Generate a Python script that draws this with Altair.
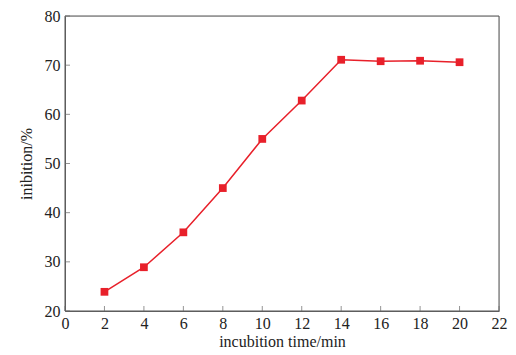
import altair as alt
import pandas as pd

time_min = [2, 4, 6, 8, 10, 12, 14, 16, 18, 20]
inhibition = [23.9, 28.9, 36.0, 45.0, 55.0, 62.8, 71.1, 70.8, 70.9, 70.6]
x_ticks = [0, 2, 4, 6, 8, 10, 12, 14, 16, 18, 20, 22]
y_ticks = [20, 30, 40, 50, 60, 70, 80]

df = pd.DataFrame({"t": time_min, "v": inhibition})
xt = pd.DataFrame({"t": x_ticks})
yt = pd.DataFrame({"v": y_ticks})

RED = "#e8202a"
FONT = "'Liberation Serif', 'Times New Roman', serif"

xs = alt.Scale(domain=[0, 22], nice=False, zero=False)
ys = alt.Scale(domain=[20, 80], nice=False, zero=False)

common = dict(ticks=False, grid=False, domainColor="#666", labelFontSize=16, titleFontSize=16,
              labelFont=FONT, titleFont=FONT, labelColor="#222", titleColor="#222",
              titleFontWeight="normal", labelOverlap=False, labelFlush=False)

xaxis = alt.Axis(values=x_ticks, labelPadding=4, titlePadding=2, **common)
yaxis = alt.Axis(values=y_ticks, labelPadding=5, titlePadding=10, **common)
XT = "incubition time/min"
YT = "inibition/%"

frame = alt.Chart(pd.DataFrame({"a": [0]})).mark_rect(fill=None, stroke="#555", strokeWidth=1).encode(
    x=alt.datum(0, scale=xs, axis=xaxis, title=XT), x2=alt.datum(22),
    y=alt.datum(20, scale=ys, axis=yaxis, title=YT), y2=alt.datum(80))

line = alt.Chart(df).mark_line(color=RED, strokeWidth=1.5).encode(
    x=alt.X("t:Q", scale=xs, axis=xaxis, title=XT),
    y=alt.Y("v:Q", scale=ys, axis=yaxis, title=YT))
pts = alt.Chart(df).mark_square(color=RED, size=60, opacity=1, filled=True).encode(
    x=alt.X("t:Q", scale=xs, axis=xaxis, title=XT),
    y=alt.Y("v:Q", scale=ys, axis=yaxis, title=YT))

xtick = alt.Chart(xt).mark_tick(orient="vertical", size=5, color="#666", thickness=1).encode(
    x=alt.X("t:Q", scale=xs, axis=xaxis, title=XT),
    y=alt.datum(20, scale=ys, axis=yaxis, title=YT), yOffset=alt.value(-2.5))
ytick = alt.Chart(yt).mark_tick(orient="horizontal", size=5, color="#666", thickness=1).encode(
    y=alt.Y("v:Q", scale=ys, axis=yaxis, title=YT),
    x=alt.datum(0, scale=xs, axis=xaxis, title=XT), xOffset=alt.value(2.5))

chart = alt.layer(frame, xtick, ytick, line, pts).properties(
    width=434, height=295,
    autosize=alt.AutoSizeParams(type="none"),
    padding={"left": 57, "top": 8, "right": 9, "bottom": 40},
).configure_view(stroke=None).configure(background="white")

chart.save("out.html", embed_options={"renderer": "svg", "actions": False})
